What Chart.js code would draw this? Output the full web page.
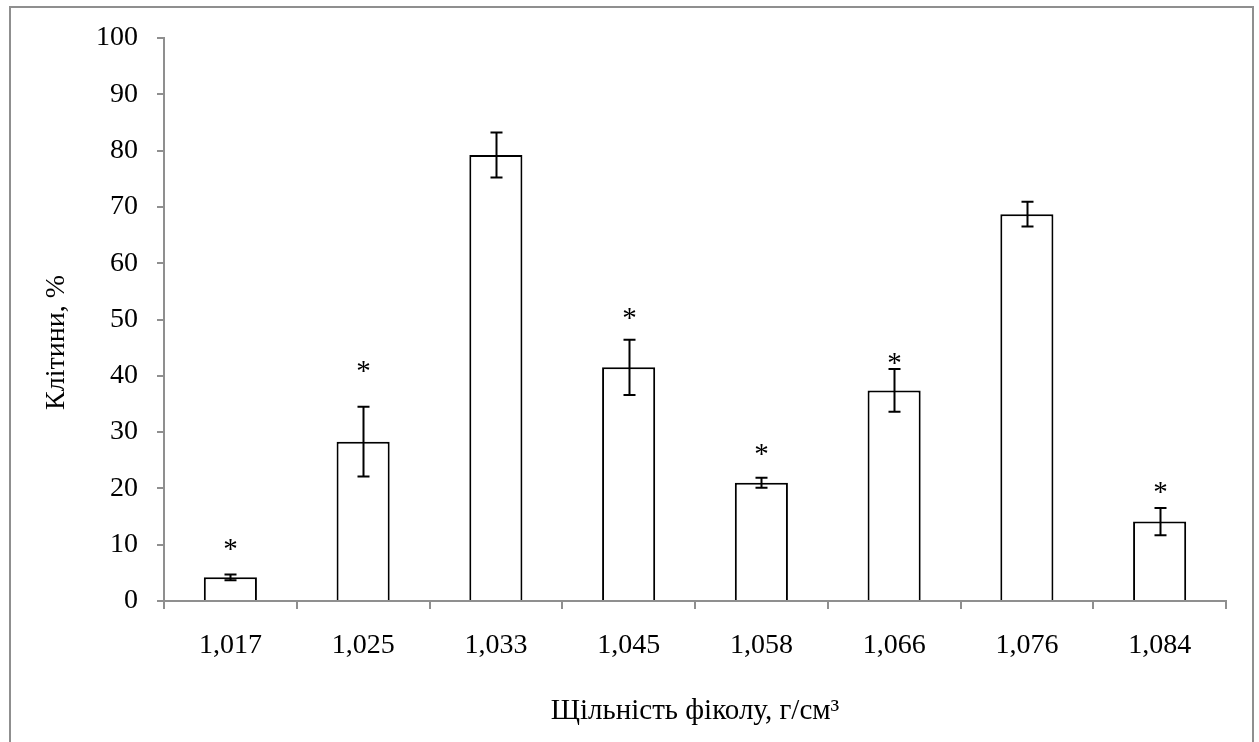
<!DOCTYPE html>
<html>
<head>
<meta charset="utf-8">
<script src="https://cdn.jsdelivr.net/npm/chart.js@4/dist/chart.umd.min.js"></script>
<style>
  html, body { margin: 0; padding: 0; background: #ffffff; }
  canvas { display: block; }
</style>
</head>
<body>
<canvas id="chart" width="1259" height="742"></canvas>
<script>
// Щільність фіколу (г/см³) — категорії осі X
const densities = ['1,017', '1,025', '1,033', '1,045', '1,058', '1,066', '1,076', '1,084'];
// Частка клітин, %
const cellShare = [4.2, 28.3, 79.2, 41.5, 21.0, 37.4, 68.7, 14.1];
// Похибка (±)
const cellError = [0.5, 6.2, 4.0, 4.9, 0.9, 3.8, 2.2, 2.4];
// Висота позначки достовірності «*» у відсотках (null — без позначки)
const markLevel = [9.6, 41.2, null, 50.6, 26.5, 42.7, null, 19.7];
// Поділки осі Y
const yTicks = [0, 10, 20, 30, 40, 50, 60, 70, 80, 90, 100];

const FONT = "'Liberation Serif', 'Times New Roman', serif";
const AXIS_GREY = '#8f8f8f';
const Y_TITLE = 'Клітини, %';

// Зовнішня рамка, білий фон і підпис осі Y
const framePlugin = {
  id: 'frame',
  beforeDraw(chart) {
    const ctx = chart.ctx;
    ctx.save();
    ctx.fillStyle = '#ffffff';
    ctx.fillRect(0, 0, chart.width, chart.height);
    ctx.strokeStyle = AXIS_GREY;
    ctx.lineWidth = 2;
    ctx.strokeRect(10, 7, 1243, 760);
    ctx.restore();
  },
  afterDraw(chart) {
    const ctx = chart.ctx;
    const area = chart.chartArea;
    ctx.save();
    ctx.translate(57, (area.top + area.bottom) / 2 + 23);
    ctx.rotate(-Math.PI / 2);
    ctx.fillStyle = '#000000';
    ctx.font = '28px ' + FONT;
    ctx.textAlign = 'center';
    ctx.textBaseline = 'middle';
    ctx.fillText(Y_TITLE, 0, 0);
    ctx.restore();
  }
};

// Відрізки похибок та зірочки над стовпчиками
const errorBarPlugin = {
  id: 'errorBars',
  afterDatasetsDraw(chart) {
    const ctx = chart.ctx;
    const y = chart.scales.y;
    const meta = chart.getDatasetMeta(0);
    ctx.save();
    ctx.strokeStyle = '#000000';
    ctx.lineWidth = 2;
    meta.data.forEach((bar, i) => {
      const v = cellShare[i], e = cellError[i];
      const x = Math.round(bar.x) + 0.5;
      const yTop = y.getPixelForValue(v + e);
      const yBot = y.getPixelForValue(v - e);
      const cap = 6;
      ctx.beginPath();
      ctx.moveTo(x, yTop); ctx.lineTo(x, yBot);
      ctx.moveTo(x - cap, yTop); ctx.lineTo(x + cap, yTop);
      ctx.moveTo(x - cap, yBot); ctx.lineTo(x + cap, yBot);
      ctx.stroke();
      if (markLevel[i] !== null) {
        ctx.fillStyle = '#000000';
        ctx.font = '29px ' + FONT;
        ctx.textAlign = 'center';
        ctx.textBaseline = 'alphabetic';
        ctx.fillText('*', x, y.getPixelForValue(markLevel[i]) + 11);
      }
    });
    ctx.restore();
  }
};

new Chart(document.getElementById('chart'), {
  type: 'bar',
  data: {
    labels: densities,
    datasets: [{
      data: cellShare,
      backgroundColor: '#ffffff',
      borderColor: '#000000',
      borderWidth: 2,
      barPercentage: 0.4,
      categoryPercentage: 1.0
    }]
  },
  options: {
    responsive: false,
    animation: false,
    devicePixelRatio: 1,
    layout: { padding: { top: 38, right: 33, left: 0, bottom: 0 } },
    plugins: {
      legend: { display: false },
      tooltip: { enabled: false }
    },
    scales: {
      x: {
        grid: {
          display: true,
          drawOnChartArea: false,
          drawTicks: true,
          tickLength: 8,
          color: AXIS_GREY,
          lineWidth: 2,
          offset: true
        },
        border: { display: true, color: AXIS_GREY, width: 2 },
        ticks: {
          color: '#000000',
          font: { family: FONT, size: 28 },
          padding: 20,
          maxRotation: 0,
          autoSkip: false
        },
        title: {
          display: true,
          text: 'Щільність фіколу, г/см³',
          color: '#000000',
          font: { family: FONT, size: 29 },
          padding: { top: 0, bottom: 13 }
        },
        afterFit(scale) { scale.height = 141; }
      },
      y: {
        min: 0,
        max: 100,
        afterBuildTicks(scale) { scale.ticks = yTicks.map(v => ({ value: v })); },
        grid: {
          display: true,
          drawOnChartArea: false,
          drawTicks: true,
          tickLength: 7,
          color: AXIS_GREY,
          lineWidth: 2
        },
        border: { display: true, color: AXIS_GREY, width: 2 },
        ticks: {
          color: '#000000',
          font: { family: FONT, size: 28 },
          padding: 19
        },
        title: { display: false },
        afterFit(scale) { scale.width = 164; }
      }
    }
  },
  plugins: [framePlugin, errorBarPlugin]
});
</script>
</body>
</html>
